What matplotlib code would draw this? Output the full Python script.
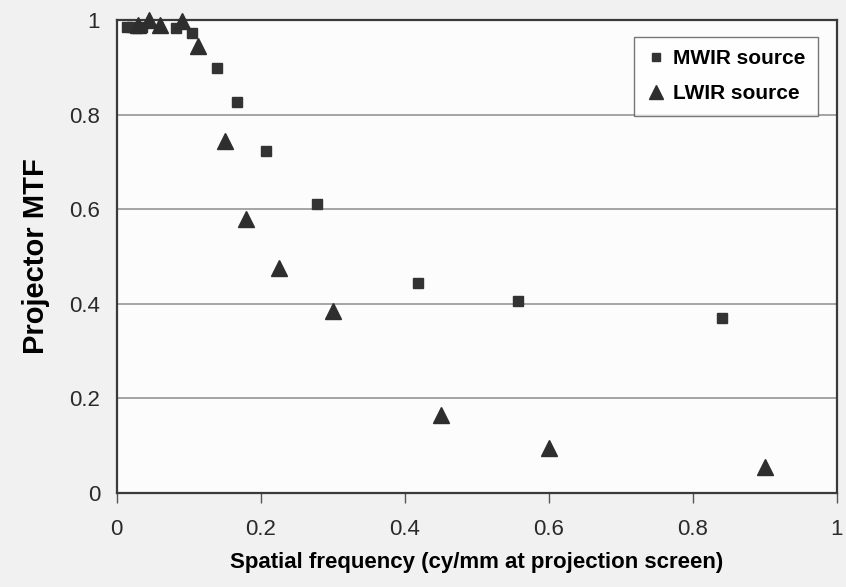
"""Projector MTF vs spatial frequency, MWIR and LWIR sources."""
import matplotlib.pyplot as plt

plt.rcParams["font.family"] = ["Liberation Sans", "DejaVu Sans"]

# MWIR source (squares)
mwir_freq = [0.014, 0.021, 0.028, 0.035, 0.082, 0.104, 0.139, 0.167, 0.207, 0.278, 0.418, 0.558, 0.840]
mwir_mtf = [0.985, 0.985, 0.982, 0.985, 0.982, 0.972, 0.898, 0.826, 0.722, 0.610, 0.445, 0.405, 0.370]

# LWIR source (triangles)
lwir_freq = [0.030, 0.045, 0.060, 0.090, 0.1125, 0.150, 0.180, 0.225, 0.300, 0.450, 0.600, 0.900]
lwir_mtf = [0.990, 1.000, 0.990, 0.998, 0.945, 0.745, 0.580, 0.475, 0.385, 0.165, 0.095, 0.055]

x_ticks = [0, 0.2, 0.4, 0.6, 0.8, 1]
y_ticks = [0, 0.2, 0.4, 0.6, 0.8, 1]
tick_labels = ["0", "0.2", "0.4", "0.6", "0.8", "1"]

fig = plt.figure(figsize=(8.46, 5.87), dpi=100, facecolor="#f1f1f1")
ax = fig.add_axes([0.138, 0.160, 0.851, 0.806], facecolor="#fcfcfc")

ax.set_axisbelow(True)
ax.yaxis.grid(True, color="#8c8c8c", linewidth=1.1)

ax.plot(mwir_freq, mwir_mtf, "s", color="#333333", markersize=7, label="MWIR source",
        clip_on=False, zorder=3)
ax.plot(lwir_freq, lwir_mtf, "^", color="#2e2e2e", markersize=11, label="LWIR source",
        clip_on=False, zorder=3)

ax.set_xlim(0, 1)
ax.set_ylim(0, 1)
ax.set_xticks(x_ticks)
ax.set_xticklabels(tick_labels)
ax.set_yticks(y_ticks)
ax.set_yticklabels(tick_labels)
ax.tick_params(axis="x", direction="out", length=7, width=1, color="#555555",
               labelsize=16, pad=12, labelcolor="#2a2a2a")
ax.tick_params(axis="y", length=0, labelsize=16, pad=12, labelcolor="#2a2a2a")

for side in ax.spines.values():
    side.set_color("#3a3a3a")
    side.set_linewidth(1.6)

ax.set_xlabel("Spatial frequency (cy/mm at projection screen)", fontsize=16,
              fontweight="bold", labelpad=8)
ax.set_ylabel("Projector MTF", fontsize=21, fontweight="bold", labelpad=14)

leg = ax.legend(loc="upper right", bbox_to_anchor=(0.974, 0.964), borderaxespad=0,
                prop={"weight": "bold", "size": 15}, frameon=True, fancybox=False,
                handletextpad=0.3, handlelength=1.0, borderpad=0.6, labelspacing=0.75,
                markerscale=0.9)
leg.get_frame().set_edgecolor("#555555")
leg.get_frame().set_linewidth(1.0)
leg.get_frame().set_facecolor("#ffffff")

fig.savefig("out.png", dpi=100, facecolor=fig.get_facecolor())
